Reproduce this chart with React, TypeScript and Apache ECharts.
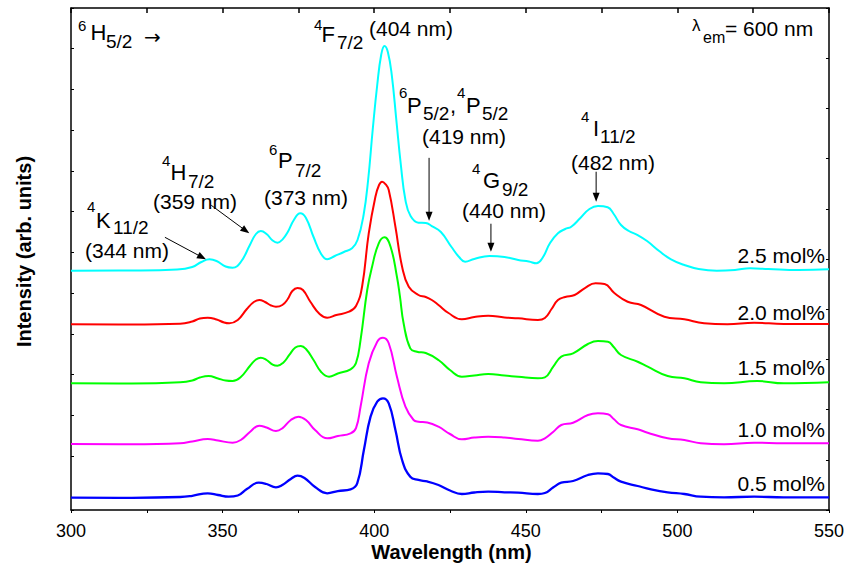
import React, { useEffect, useRef } from 'react';
import * as echarts from 'echarts';

// ---------- data ----------
const xMin = 300;
const xMax = 550;
const xTickStep = 25;
const xLabelStep = 50;

const seriesNames = ['0.5 mol%', '1.0 mol%', '1.5 mol%', '2.0 mol%', '2.5 mol%'];
const seriesColors = ['#0000ff', '#ff00ff', '#00ff00', '#ff0000', '#00ffff'];

const curve05: [number, number][] = [
  [300, 2.45], [320, 2.43], [336, 2.59], [340, 2.83], [345.1, 3.33], [348.5, 2.99], [352, 2.65], [355, 2.89],
  [358, 4.18], [361.9, 5.44], [364.5, 5.18], [367.6, 4.52], [369.7, 4.98], [372.5, 6.18], [374.7, 6.83], [377, 6.37],
  [380.5, 4.58], [384.5, 3.33], [388, 3.78], [392.2, 4.12], [394.4, 5.32], [396.6, 11.95], [398.8, 18.59], [401, 21.57],
  [402.9, 22.25], [404.8, 21.25], [407, 15.94], [409.2, 9.96], [411.9, 6.63], [414.6, 5.98], [417.5, 5.68], [421.2, 4.98],
  [425, 3.88], [428.9, 3.19], [433, 3.49], [437.6, 3.65], [443, 3.53], [447.5, 3.45], [454, 3.19], [456.3, 3.39],
  [459, 4.48], [461.7, 5.44], [465.6, 5.78], [470.5, 6.97], [473.8, 7.31], [477.1, 7.17], [479, 6.47], [481.4, 5.64],
  [486.9, 4.78], [491.3, 4.12], [496.8, 3.53], [502.3, 3.19], [507.7, 2.65], [515.4, 2.53], [525.3, 2.65], [535.1, 2.53],
  [550, 2.53],
];

const curve10: [number, number][] = [
  [300, 13.15], [320, 13.09], [336, 13.29], [340, 13.65], [345.1, 14.14], [348.5, 13.84], [353.3, 13.41], [356, 13.94],
  [359, 15.54], [362.1, 16.79], [364.5, 16.43], [367.6, 15.74], [369.7, 16.27], [372.5, 17.93], [375, 18.59], [377.5, 17.93],
  [380.5, 15.94], [384.5, 14.28], [388, 14.74], [392.2, 15.28], [394, 16.33], [395.5, 20.58], [398.2, 29.22], [401, 33.53],
  [402.9, 34.32], [404.8, 33.21], [407.5, 26.55], [410.3, 20.58], [413, 17.93], [414.6, 17.59], [417.5, 17.43], [421.2, 16.59],
  [425, 15.14], [428.9, 14.08], [433, 14.44], [437.6, 14.6], [443, 14.44], [447.5, 14.14], [454, 13.8], [456.3, 14.28],
  [459, 15.54], [461.7, 16.93], [465.6, 17.39], [470.5, 18.92], [473.8, 19.26], [477.1, 19.06], [479, 18.13], [481.4, 16.93],
  [486.9, 16.08], [490.2, 15.4], [496.8, 14.28], [502.3, 13.94], [507.7, 13.29], [515.4, 13.09], [525.3, 13.41], [535.1, 13.29],
  [550, 13.29],
];

const curve15: [number, number][] = [
  [300, 25.24], [320, 25.2], [336, 25.44], [340, 25.8], [342.5, 26.39], [345.4, 26.69], [348.5, 26.2], [351, 25.8],
  [353.3, 25.7], [356, 26.49], [359, 28.68], [361, 29.98], [362.6, 30.34], [364.5, 29.88], [366.5, 28.98], [368.1, 28.75],
  [370, 29.34], [372, 30.88], [374, 32.37], [375.8, 32.67], [377.5, 32.07], [380, 29.88], [382.5, 27.49], [385.1, 26.55],
  [388, 27.19], [392.2, 28.03], [394, 29.28], [395.5, 33.86], [397.7, 43.82], [399.3, 48.47], [401.5, 53.13], [403.4, 54.32],
  [405.4, 52.45], [407.5, 46.47], [408.5, 42.5], [409.7, 37.19], [411.9, 32.21], [414.1, 31.53], [417, 31.27], [421.2, 29.88],
  [425, 27.89], [428.9, 26.55], [433, 26.79], [437.6, 27.09], [443, 26.79], [447.5, 26.55], [454, 26.23], [456.3, 26.43],
  [459, 28.49], [461.7, 30.54], [465.6, 31.21], [470.5, 33.07], [473.8, 33.66], [477.1, 33.53], [479, 32.47], [481.4, 30.88],
  [486.9, 29.54], [490.2, 28.55], [496.8, 26.69], [502.3, 26.23], [507.7, 25.44], [515.4, 25.24], [526.3, 25.7], [535.1, 25.24],
  [550, 25.44],
];

const curve20: [number, number][] = [
  [300, 36.99], [320, 36.95], [336, 37.09], [340, 37.55], [342.5, 38.15], [345.1, 38.31], [348, 37.95], [350.5, 37.35],
  [352.2, 37.19], [355, 37.85], [358, 40.04], [360.3, 41.43], [362.1, 41.83], [364, 41.43], [366, 40.74], [367.6, 40.5],
  [369.7, 40.84], [371.5, 42.03], [373, 43.62], [374.7, 44.22], [376.5, 43.82], [379, 41.43], [382, 39.04], [384.5, 38.31],
  [387.5, 38.84], [391.7, 39.5], [394, 40.64], [396, 44.48], [398.2, 55.12], [400.4, 62.41], [401.6, 64.74], [402.6, 65.4],
  [403.7, 64.94], [404.8, 63.74], [407, 56.43], [409.2, 48.47], [411.4, 44.48], [414.6, 42.83], [417, 42.43], [419, 41.83],
  [421.2, 40.84], [424.5, 39.24], [428.9, 37.99], [433, 38.45], [437.6, 38.71], [443, 38.35], [447.5, 38.19], [454, 37.85],
  [456.3, 38.25], [458.5, 40.04], [460.6, 41.83], [463, 42.43], [466.1, 42.83], [469.5, 44.22], [473, 45.16], [476, 45.02],
  [479.2, 43.23], [483.6, 41.49], [488, 40.84], [495.7, 38.51], [502.3, 37.99], [508.8, 37.19], [516.5, 36.99], [525.3, 37.31],
  [535.1, 37.05], [550, 37.05],
];

const curve25: [number, number][] = [
  [300, 47.67], [320, 47.71], [335, 47.91], [340, 48.41], [343, 49.4], [345.7, 49.94], [348, 49.6], [351, 48.51],
  [353.3, 48.27], [356, 49.4], [359, 52.79], [361, 54.98], [362.6, 55.58], [364.5, 54.98], [366.5, 53.68], [368.1, 53.25],
  [369.8, 53.92], [371.5, 55.38], [373.5, 57.77], [375.6, 59.1], [377.5, 58.17], [380, 54.38], [382.5, 51.0], [384.5, 49.94],
  [387, 50.6], [390, 51.39], [392.7, 52.13], [394.5, 53.78], [396.5, 58.76], [398, 65.74], [399.5, 75.7], [401, 84.66],
  [402.3, 90.64], [403.4, 92.43], [404.5, 91.23], [405.8, 86.65], [407.3, 77.69], [408.8, 68.72], [410.3, 61.75], [412, 58.56],
  [414.6, 57.23], [417, 57.17], [419, 56.57], [422, 55.38], [425.5, 52.39], [428, 50.4], [430, 49.46], [433, 50.0],
  [438, 50.6], [443, 50.4], [447.5, 49.8], [451, 49.5], [453.5, 49.14], [455.5, 50.2], [458, 53.19], [460.6, 55.12],
  [463, 55.98], [465, 56.43], [468, 58.17], [471, 59.96], [473.8, 60.56], [477, 60.3], [479, 58.96], [481.4, 56.77],
  [484, 55.58], [486.9, 54.78], [490, 53.58], [494, 51.59], [497.9, 49.94], [502.3, 48.8], [507, 48.01], [513, 47.67],
  [519, 47.81], [524, 48.15], [530, 48.01], [540, 47.81], [550, 47.95],
];

const curves = [curve05, curve10, curve15, curve20, curve25];

// arrow tips in data coordinates [nm, intensity] and tail offsets in px
const arrowTips: [number, number][] = [
  [344.5, 49.94], [358.8, 55.12], [418.1, 57.6], [438.5, 51.45], [473.2, 61.41],
];
const arrowTailOffsets: [number, number][] = [
  [-41, -22], [-38, -28], [0, -63], [0, -28], [0, -30],
];

// ---------- text layout ----------
const FONT = "'Liberation Sans', Arial, Helvetica, sans-serif";
type Piece = [string, number, number, number, string?]; // text, x(left), y(middle), fontSize, font
const pieces: Piece[] = [
  ['6', 78, 25.5, 15], ['H', 90.5, 32.5, 22], ['5/2', 106, 41, 19], ['\u2192', 144, 37, 20, "'DejaVu Sans', sans-serif"],
  ['4', 314, 24.5, 15], ['F', 321.5, 34, 22], ['7/2', 337, 42, 19], ['(404 nm)', 369, 28.5, 21],
  ['\u03bb', 692, 25.5, 17], ['em', 703, 37.5, 16], ['= 600 nm', 725, 28.5, 21],
  ['4', 87, 206, 15], ['K', 96, 220, 22], ['11/2', 113, 227, 19], ['(344 nm)', 85, 250, 21],
  ['4', 162, 160, 15], ['H', 170.5, 172, 22], ['7/2', 188, 181, 19], ['(359 nm)', 153, 201.5, 21],
  ['6', 269, 149, 15], ['P', 278, 160, 22], ['7/2', 295, 170, 19], ['(373 nm)', 264, 197.5, 21],
  ['6', 399, 92, 15], ['P', 407, 105, 22], ['5/2', 423, 113, 19], [',', 450, 105, 22], ['4', 457, 92, 15], ['P', 466, 105, 22], ['5/2', 482, 113, 19],
  ['(419 nm)', 422, 136, 21],
  ['4', 472, 168, 15], ['G', 483, 180, 22], ['9/2', 502, 189, 19], ['(440 nm)', 462, 210, 21],
  ['4', 581, 116, 15], ['I', 593, 128, 22], ['11/2', 600, 136, 19], ['(482 nm)', 571, 162, 21],
];
type Tag = [string, number, number];
const molLabels: Tag[] = [
  ['2.5 mol%', 825, 255], ['2.0 mol%', 825, 312], ['1.5 mol%', 825, 367.5], ['1.0 mol%', 825, 429], ['0.5 mol%', 825, 483.3],
];

export default function App() {
  const ref = useRef<HTMLDivElement>(null);
  useEffect(() => {
    document.body.style.margin = '0';
    const chart = echarts.init(ref.current!, null, { renderer: 'svg' });
    const axisLine = { show: true, lineStyle: { color: '#000', width: 1.5 } };
    chart.setOption({
      animation: false,
      backgroundColor: '#fff',
      textStyle: { fontFamily: FONT },
      grid: { left: 71, right: 15, top: 8, bottom: 68, containLabel: false },
      xAxis: [
        {
          type: 'value', min: xMin, max: xMax, interval: xTickStep, position: 'bottom',
          axisLine, axisTick: { show: true, inside: false, length: 5, lineStyle: { color: '#000', width: 1.5 } },
          axisLabel: {
            show: true, color: '#000', fontSize: 18, lineHeight: 14, fontFamily: FONT, margin: 14,
            formatter: (v: number) => (v % xLabelStep === 0 ? String(v) : ''),
          },
          splitLine: { show: false },
        },
        {
          type: 'value', min: xMin, max: xMax, interval: xTickStep, position: 'top',
          axisLine, axisTick: { show: true, inside: true, length: 3, lineStyle: { color: '#000', width: 1 } },
          axisLabel: { show: false }, splitLine: { show: false },
        },
      ],
      yAxis: [
        {
          type: 'value', position: 'left', inverse: true, min: 0, max: 12.32, interval: 1,
          axisLine, axisTick: { show: true, inside: true, length: 3, lineStyle: { color: '#000', width: 1 } },
          axisLabel: { show: false }, splitLine: { show: false },
        },
        {
          type: 'value', position: 'right', min: 0, max: 100, interval: 10,
          axisLine, axisTick: { show: true, inside: true, length: 3, lineStyle: { color: '#000', width: 1 } },
          axisLabel: { show: false }, splitLine: { show: false },
        },
      ],
      series: curves.map((c, i) => ({
        name: seriesNames[i], type: 'line', xAxisIndex: 0, yAxisIndex: 1, data: c,
        showSymbol: false, smooth: 0.45,
        lineStyle: { color: seriesColors[i], width: i === 0 ? 2.3 : 2 },
        itemStyle: { color: seriesColors[i] }, z: 2,
      })),
    });

    const graphic: any[] = [];
    pieces.forEach(([t, x, y, s, f]) => {
      graphic.push({ type: 'text', x, y, z: 10, style: { text: t, fontSize: s, fontFamily: f || FONT, fill: '#000', align: 'left', verticalAlign: 'middle' } });
    });
    molLabels.forEach(([t, x, y]) => {
      graphic.push({ type: 'text', x, y, z: 10, style: { text: t, fontSize: 21, fontFamily: FONT, fill: '#000', align: 'right', verticalAlign: 'middle' } });
    });
    graphic.push({ type: 'text', x: 451.5, y: 552, z: 10, style: { text: 'Wavelength (nm)', fontSize: 20, lineHeight: 16, fontWeight: 'bold', fontFamily: FONT, fill: '#000', align: 'center', verticalAlign: 'middle' } });
    graphic.push({ type: 'text', x: 24, y: 251.5, rotation: Math.PI / 2, z: 10, style: { text: 'Intensity (arb. units)', fontSize: 20, fontWeight: 'bold', fontFamily: FONT, fill: '#000', align: 'center', verticalAlign: 'middle' } });

    arrowTips.forEach((tip, i) => {
      const p = chart.convertToPixel({ xAxisIndex: 0, yAxisIndex: 1 } as any, tip) as number[];
      const tail = [p[0] + arrowTailOffsets[i][0], p[1] + arrowTailOffsets[i][1]];
      const dx = p[0] - tail[0];
      const dy = p[1] - tail[1];
      const len = Math.sqrt(dx * dx + dy * dy);
      const ux = dx / len;
      const uy = dy / len;
      const hl = 9;
      const hw = 3.5;
      const bx = p[0] - ux * hl;
      const by = p[1] - uy * hl;
      graphic.push({ type: 'line', z: 10, shape: { x1: tail[0], y1: tail[1], x2: bx + ux * 2, y2: by + uy * 2 }, style: { stroke: '#000', lineWidth: 1 } });
      graphic.push({ type: 'polygon', z: 10, shape: { points: [[p[0], p[1]], [bx - uy * hw, by + ux * hw], [bx + uy * hw, by - ux * hw]] }, style: { fill: '#000' } });
    });
    chart.setOption({ graphic });
    return () => chart.dispose();
  }, []);
  return <div ref={ref} style={{ width: 847, height: 578, position: 'absolute', left: 0, top: 0 }} />;
}
